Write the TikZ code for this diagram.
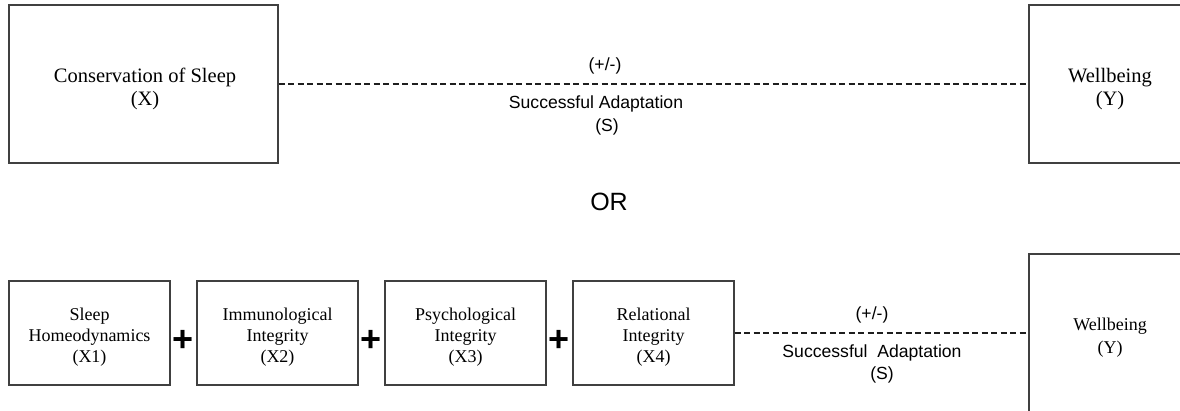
\documentclass[tikz,border=0pt]{standalone}
\usepackage{fontspec}
\setmainfont{Liberation Serif}
\newfontfamily\labelfont{Liberation Sans}
\definecolor{BoxGray}{RGB}{64,64,64}
\definecolor{DashGray}{RGB}{30,30,30}

\begin{document}
\begin{tikzpicture}[x=1pt,y=-1pt,
    BigBox/.style={draw=BoxGray,line width=1.4pt,minimum width=269pt,minimum height=158pt},
    SmallBox/.style={draw=BoxGray,line width=1.4pt,minimum width=161pt,minimum height=104pt},
    BigText/.style={inner sep=0pt,align=center,font=\fontsize{20.5}{23}\selectfont},
    SmallText/.style={inner sep=0pt,align=center,font=\fontsize{18}{21}\selectfont},
    EdgeLabel/.style={inner sep=0pt,font=\labelfont\fontsize{17.6}{21}\selectfont},
    PlusSign/.style={inner sep=0pt,font=\labelfont\bfseries\fontsize{36}{36}\selectfont},
    DashLink/.style={draw=DashGray,line width=1.5pt,dash pattern=on 6pt off 3.5pt}]
  \useasboundingbox (0,0) rectangle (1180,411);
  % top row
  \node[BigBox] (X) at (143.5,84) {};
  \node[BigBox,minimum width=162pt] (Y) at (1110,84) {};
  \node[BigText] (X-text) at (145,89) {Conservation of Sleep\\(X)};
  \node[BigText] (Y-text) at (1110,89) {Wellbeing\\(Y)};
  \draw[DashLink] (X) -- (Y);
  \node[EdgeLabel] (sign) at (605,66) {(+/-)};
  \node[EdgeLabel] (adapt) at (596,104) {Successful Adaptation};
  \node[EdgeLabel] (S) at (607,127) {(S)};
  % or
  \node[inner sep=0pt,font=\labelfont\fontsize{25}{30}\selectfont] (or) at (609,202) {OR};
  % bottom row
  \node[SmallBox] (X1) at (89.5,333) {};
  \node[SmallBox] (X2) at (277.5,333) {};
  \node[SmallBox] (X3) at (465.5,333) {};
  \node[SmallBox] (X4) at (653.5,333) {};
  \node[BigBox,minimum width=162pt] (Y2) at (1110,333) {};
  \node[SmallText] (X1-text) at (89.5,337) {Sleep\\Homeodynamics\\(X1)};
  \node[SmallText] (X2-text) at (277.5,337) {Immunological\\Integrity\\(X2)};
  \node[SmallText] (X3-text) at (465.5,337) {Psychological\\Integrity\\(X3)};
  \node[SmallText] (X4-text) at (653.5,337) {Relational\\Integrity\\(X4)};
  \node[SmallText,font=\fontsize{18}{23}\selectfont] (Y2-text) at (1110,338) {Wellbeing\\(Y)};
  \node[PlusSign] (plus1) at (183.5,341) {+};
  \node[PlusSign] (plus2) at (371.5,341) {+};
  \node[PlusSign] (plus3) at (559.5,341) {+};
  \draw[DashLink] (X4) -- (Y2);
  \node[EdgeLabel] (sign2) at (872,315) {(+/-)};
  \node[EdgeLabel] (adapt2) at (872,353) {Successful~ Adaptation};
  \node[EdgeLabel] (S2) at (882,375) {(S)};
\end{tikzpicture}
\end{document}
